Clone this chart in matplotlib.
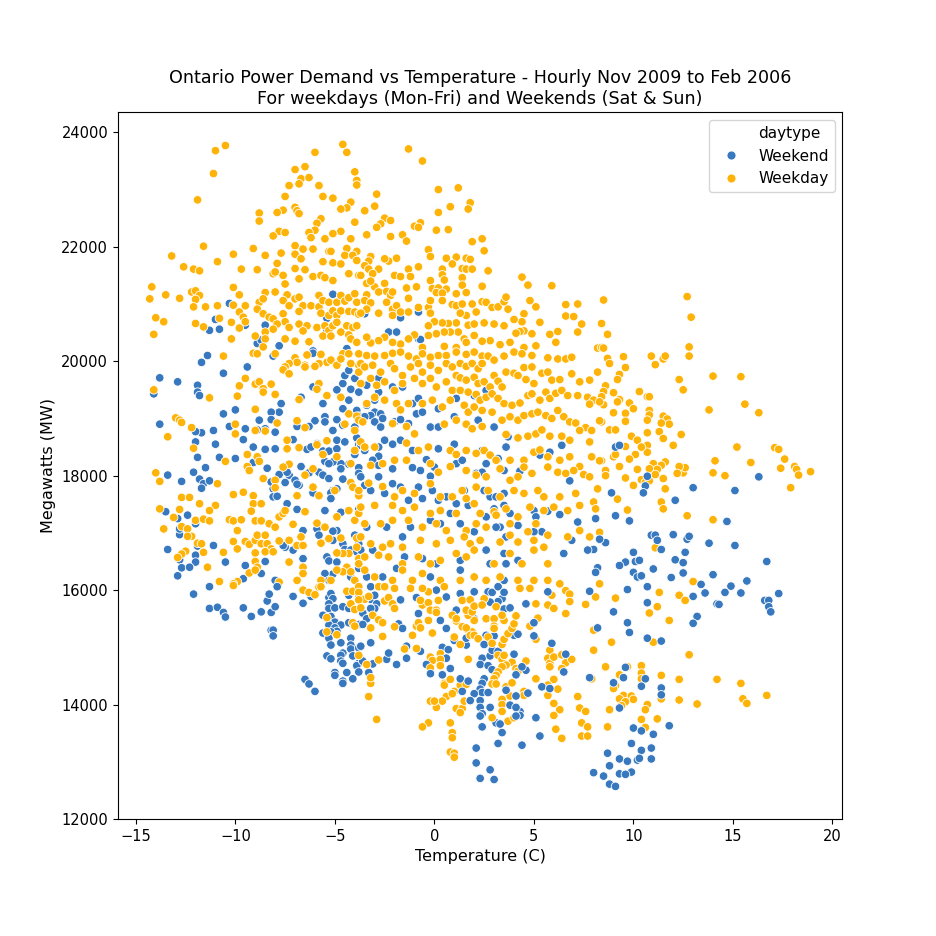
import numpy as np
import matplotlib.pyplot as plt
from matplotlib.lines import Line2D

# (temperature C, megawatts)
weekend_pts = [
    (-10.3,21010),(-11.0,20730),(-10.8,20560),(-11.3,20540),(-9.5,20630),(-8.5,20630),(-8.9,20310),(-8.7,20370),
    (-7.8,20270),(-6.1,20180),(-5.1,21170),(-5.4,20750),(-5.4,20540),(-4.4,20220),
    (-0.8,20390),(-0.7,20380),(-2.3,20510),(-1.9,20510),(-1.7,20760),(-0.8,20860),(-3.7,20830),(-3.5,20830),
    (-11.4,20100),(-11.7,19980),(-10.6,19790),(-13.8,19710),(-12.9,19640),(-11.9,19580),(-11.9,19460),(-11.8,19400),
    (-14.1,19430),(-9.4,19900),(-8.1,20090),(-8.8,19650),(-7.7,19260),(-6.7,19370),(-6.1,19550),(-6.1,20140),
    (-5.6,19260),(-4.9,19500),(-4.6,19610),(-4.2,19510),(-4.0,19700),(-3.8,19460),(-4.5,19750),(-4.3,19840),
    (-4.3,19320),(-4.6,19170),(-3.9,19140),(-3.8,19040),(-4.9,18980),(-4.6,18880),(-4.0,18850),(-5.1,18790),
    (-5.5,19030),(-5.5,18940),(-6.0,18960),(-6.3,18860),(-6.9,18860),(-7.8,19110),(-8.2,19110),(-8.8,18970),
    (-8.2,18980),(-8.5,18820),(-8.0,18760),(-8.9,18800),(-9.5,18820),(-10.0,19150),(-10.6,19080),(-10.3,18860),
    (-11.1,18790),(-11.7,18750),(-12.0,18770),(-13.8,18900),(-12.0,18590),(-11.0,18550),(-11.9,18320),(-10.8,18320),
    (-10.0,18300),(-9.6,18630),(-9.1,18500),(-8.5,18460),(-9.1,18230),(-8.0,18470),(-7.1,18630),(-6.4,18460),
    (-6.2,18500),(-5.9,18560),(-5.6,18430),(-5.3,18430),(-4.9,18470),(-4.9,18620),(-4.5,18590),(-3.9,18660),
    (-3.8,18540),(-4.0,18370),(-4.3,18200),(-4.7,18210),(-5.1,18240),(-5.5,18250),(-5.3,18210),(-4.7,18120),
    (-3.8,18140),(-3.8,18040),(-6.7,18160),(-8.4,18130),(-7.8,18020),(-7.3,18010),(-7.0,17920),(-6.8,17830),
    (-5.8,18060),(-5.6,18010),(-5.3,17950),(-4.6,17940),(-5.1,17740),(-4.9,17770),(-5.2,17700),(-5.2,17600),
    (-8.1,17770),(-8.1,17630),(-7.9,17640),(-7.4,17510),(-6.9,17410),(-6.1,17700),(-5.5,17390),(-4.7,17360),
    (-3.8,17410),(-4.0,16960),(-4.9,17040),(-5.1,17030),(-5.9,17070),(-5.8,16960),(-6.6,17040),(-5.1,16870),
    (-4.6,16810),(-4.5,16710),(-4.2,16700),(-3.8,16810),(-3.9,16670),(-3.8,16380),(-5.4,16580),(-5.3,16510),
    (-4.9,16490),(-5.1,16280),(-5.5,16290),(-5.3,16170),(-4.2,16230),(-3.8,16070),(-6.6,16550),(-7.1,16700),
    (-7.5,16750),(-7.6,16780),(-8.3,16700),(-8.5,16500),(-8.0,16170),(-8.7,16290),(-9.6,16200),(-9.5,16430),
    (-11.1,16780),(-10.5,16490),(-11.9,16770),(-12.0,16610),(-12.0,16490),(-12.8,16530),(-12.7,16390),(-12.3,16400),
    (-12.9,16250),(-13.4,16710),(-12.8,16970),(-12.8,17070),(-12.9,17250),(-12.4,17310),(-12.0,17160),(-13.5,17370),
    (-13.4,18010),(-12.7,17900),(-11.8,17940),(-11.6,17860),(-11.3,17910),(-11.7,17780),(-11.5,18140),(-12.1,18060),
    (-11.3,16060),(-7.5,17880),(-8.2,17890),(-6.9,17850),(-7.4,18060),(-6.3,18050),
    (-3.4,19580),(-2.8,19700),(-2.1,19550),(-1.6,19550),(-2.8,19460),(-3.0,19320),(-3.4,19230),(-3.0,19110),
    (-3.2,19050),(-3.5,19030),(-2.7,19080),(-2.6,19000),(-3.0,18940),(-2.7,18850),(-2.0,18940),(-1.7,18980),
    (-1.3,18910),(-0.9,19080),(-0.6,19110),(-1.1,19260),(-0.8,19350),(0.2,19170),(-0.2,18850),(0.2,18850),
    (1.0,19030),(1.1,19350),(2.0,19400),(2.6,19490),(2.2,18970),(3.0,18850),(3.7,18680),(3.6,18500),
    (3.2,18300),(3.5,18090),(4.3,18080),(5.3,18360),(5.8,18410),(6.4,18530),(6.8,17910),(6.3,17320),
    (5.0,17390),(5.1,17280),(5.7,17380),(5.4,17020),(6.9,16870),(7.2,17190),(8.1,17250),(8.3,16880),
    (8.0,16710),(7.7,16700),(8.2,16390),(8.1,16310),(6.5,16640),
    (-3.7,18530),(-3.5,18440),(-2.8,18500),(-2.5,18620),(-2.1,18550),(-1.7,18620),(-2.8,18340),(-3.1,18270),
    (-2.8,18180),(-2.1,18120),(-1.1,18440),(-1.1,18140),(-0.7,18090),(-0.4,18280),(0.0,18150),(-0.2,17990),
    (0.2,18470),(1.0,18550),(1.1,18210),(1.4,18270),(2.4,18440),(2.1,18040),(2.4,18060),(2.6,18210),
    (-3.7,17980),(-3.5,17830),(-3.2,17740),(-2.8,17980),(-2.5,17690),(-2.1,17860),(-1.7,17800),(-1.3,17570),
    (-0.8,17800),(-0.6,17600),(-0.1,17740),(0.2,17570),(0.6,17630),(1.1,17510),(1.5,17740),(1.7,17480),
    (2.5,17740),(2.8,17630),(3.1,17630),(3.5,17690),(3.5,17480),(3.0,17420),(2.6,17280),(3.3,17100),
    (3.8,17340),(4.2,17130),(5.0,17020),(3.6,16930),(3.1,17100),(2.0,17020),(1.3,17160),(0.8,17340),
    (0.3,17160),(-0.2,17220),(-1.2,17100),(-1.6,16930),(-2.4,17100),(-3.4,17100),(-3.7,16700),(-3.1,16700),
    (-1.9,16380),(-1.5,16580),(-0.6,16550),(0.1,16460),(1.3,16520),(2.6,16700),(2.8,16460),(3.5,16640),
    (3.6,16460),(4.2,16520),(-3.4,16230),(-2.6,16230),(-0.2,16230),(1.3,16350),(2.6,16170),(3.5,16170),
    (9.1,18500),(9.3,18530),(10.7,17990),(10.6,17820),(10.5,17700),(8.9,17700),(12.1,17570),(13.0,17790),
    (15.1,17740),(16.3,17980),(9.1,17300),(9.8,17210),(14.7,17200),(10.9,16960),(11.1,16960),(11.2,16870),
    (11.4,16710),(12.0,16970),(12.7,16890),(12.8,16940),(13.8,16820),(15.1,16780),(8.6,16830),(8.3,16890),
    (10.0,16660),(10.1,16500),(10.3,16520),(9.6,16490),(9.3,16430),(11.0,16370),(12.1,16530),(12.5,16480),
    (12.6,16660),(10.0,16310),(10.2,16230),(10.4,16250),(11.9,16220),(12.5,16300),(14.0,16270),(10.7,16060),
    (9.7,16010),(13.4,16100),(14.9,16070),(15.7,16160),(13.6,15950),(14.6,15960),(15.4,15950),(16.7,16500),
    (17.3,15940),(16.6,15820),(16.8,15820),(16.8,15710),(16.9,15620),(13.0,15890),(10.7,15780),(14.2,15760),
    (14.3,15750),(9.0,15620),(13.2,15540),(13.0,15420),(9.7,15430),(9.8,15260),(10.7,15160),(11.4,15110),
    (9.6,14650),(9.0,14380),(9.5,14470),(10.6,14450),(10.4,14320),(11.4,14290),(11.4,14170),(9.3,13940),
    (10.0,13590),(10.4,13540),(11.8,13630),(11.0,13480),(9.9,13320),(10.4,13200),(10.9,13240),(8.7,13150),
    (9.3,13050),(9.7,13010),(10.2,13030),(10.3,13060),(10.9,13050),(8.8,12930),(9.9,12820),(9.3,12790),
    (9.6,12780),(8.5,12750),(8.8,12610),(9.1,12570),
    (-12.1,15930),(-11.3,15680),(-10.9,15700),(-10.6,15610),(-10.5,15530),(-9.6,15690),(-9.2,15540),(-8.7,15620),
    (-8.4,15810),(-8.3,15930),(-7.9,16060),(-8.2,15610),(-8.0,15710),(-8.2,15300),(-8.1,15300),(-8.1,15200),
    (-7.1,15890),(-6.6,15770),(-6.2,15890),(-5.6,15560),(-5.6,15250),(-5.3,15870),(-5.2,15940),(-5.1,15850),
    (-5.3,15760),(-5.3,15680),(-5.0,15690),(-5.2,15540),(-5.0,15440),(-4.7,15390),(-5.3,15390),(-5.0,15340),
    (-4.9,15280),(-5.2,15270),(-5.3,15160),(-5.2,15040),(-4.7,15080),(-4.2,15160),(-4.2,15040),(-4.2,14970),
    (-3.8,14990),(-4.1,14850),(-4.6,14900),(-4.7,14860),(-5.4,14850),(-5.2,14800),(-4.7,14760),(-4.6,14720),
    (-3.8,14720),(-3.9,14680),(-4.4,14560),(-5.0,14560),(-5.0,14510),(-3.8,14570),(-4.1,14450),(-4.6,14410),
    (-4.6,14370),(-6.5,14440),(-6.3,14360),(-6.0,14230),(-4.3,15910),(-4.6,15710),(-4.3,15680),(-3.8,15910),
    (-3.6,15590),(-4.3,15430),(-3.8,15400),
    (-3.2,16060),(-3.2,15840),(-3.0,15910),(-2.9,15760),(-3.0,15680),(-3.2,15680),(-3.6,15600),(-3.4,15500),
    (-3.6,15400),(-3.7,15020),(-3.2,15080),(-3.6,14760),(-3.1,14710),(-3.3,14560),(-2.4,14790),(-2.3,14900),
    (-1.9,14700),(-1.7,15830),(-1.8,15410),(-1.6,15330),(-1.4,15020),(-1.4,14810),(-0.7,14930),(-0.8,15590),
    (-0.9,15870),(0.1,16000),(0.6,15880),(1.3,15940),(1.1,15650),(0.3,15470),(0.6,15330),(1.0,15120),
    (1.6,15040),(1.6,15160),(0.4,15000),(0.7,14960),(0.6,14810),(-0.4,14700),(-0.2,14540),(0.4,14520),
    (0.8,14630),(1.3,14450),(1.7,14410),(1.4,14230),(2.0,15970),(2.7,15970),(2.9,15960),(3.2,16060),
    (3.4,15850),(3.5,15960),(3.2,15800),(2.8,15790),(3.5,15670),(3.8,15690),(2.0,15500),(2.6,15210),
    (3.0,15200),(4.0,15210),(4.2,15230),(2.5,15050),(2.4,14810),(2.3,14700),(2.7,14680),(2.8,14850),
    (2.9,14950),(3.2,14930),(2.9,14610),(2.5,14450),(2.4,14370),(2.3,14270),(2.4,14210),(2.7,14210),
    (2.0,14190),(1.8,14070),(2.3,14070),(2.3,13950),(2.4,13840),(2.3,13800),(2.8,13950),(2.4,13610),
    (3.1,13680),(3.4,13510),(3.2,13320),(2.1,13240),(2.1,12980),(2.8,12860),(2.3,12710),(3.0,12690),
    (3.3,13660),(3.6,14250),(4.0,14880),(4.1,14520),(4.1,14150),(3.8,13990),(4.3,13880),(4.3,13810),
    (4.1,13800),(4.1,13950),(4.4,13290),(4.6,14600),(4.4,14660),(4.7,14200),(5.0,15200),(5.0,15430),
    (4.6,15760),(5.1,13770),(5.3,13450),(5.4,14310),(5.8,14280),(5.9,15070),(5.7,15970),(6.6,14880),
    (6.5,14570),(7.8,15980),(8.2,15340),(7.8,14470),(8.0,12810),
]

weekday_pts = [
    (-11.0,23680),(-10.5,23770),(-11.1,23280),(-11.9,22820),(-4.6,23790),(-4.4,23650),(-6.0,23650),(-4.0,23310),
    (-7.0,23350),(-6.5,23400),(-6.7,23190),(-6.3,23210),(-7.3,23070),(-6.8,23100),(-5.8,23070),(-7.5,22880),
    (-5.6,22880),(-5.1,22850),(-3.9,23160),(-3.9,23080),(-4.2,22780),(-4.4,22680),(-4.7,22660),(-5.7,22490),
    (-7.0,22690),(-6.9,22630),(-6.8,22580),(-7.6,22640),(-7.9,22600),(-8.8,22590),(-8.8,22450),(-4.0,22430),
    (-5.9,22410),(-6.0,22290),(-6.3,22250),(-4.7,22270),(-5.1,22230),(-6.2,22160),(-5.5,22140),(-4.2,22140),
    (-7.8,22270),(-7.5,22250),(-8.1,22190),(-11.6,22010),(-9.1,21970),(-13.2,21840),(-12.6,21650),(-12.1,21610),
    (-11.8,21580),(-10.9,21740),(-10.1,21870),(-9.7,21610),(-8.9,21600),(-8.5,21850),(-7.7,21890),(-7.0,22020),
    (-6.6,21960),(-6.1,21960),(-7.0,21870),(-6.7,21790),(-5.3,21920),(-5.2,21920),(-4.4,21970),(-3.9,21920),
    (-4.5,21850),(-4.1,21850),(-5.6,21740),(-5.1,21720),(-4.7,21700),(-3.9,21760),(-7.9,21710),(-7.0,21620),
    (-6.5,21600),(-7.6,21500),(-8.1,21530),(-8.0,21560),(-6.8,21440),(-6.1,21480),(-5.7,21500),(-5.5,21460),
    (-5.1,21410),(-4.3,21530),(-3.8,21500),(-14.2,21300),(-14.3,21090),(-13.5,21160),(-14.0,20760),(-13.6,20690),
    (-14.1,20470),(-12.8,21100),(-12.2,21210),(-12.0,21230),(-11.8,21150),(-12.0,21080),(-12.1,20950),(-11.5,20950),
    (-10.9,20970),(-12.0,20660),(-11.6,20600),(-10.8,20750),(-10.2,20680),(-10.2,20390),(-10.1,21290),(-9.8,21160),
    (-10.1,20980),(-9.5,20970),(-9.8,20860),(-9.6,20770),(-9.5,20690),(-9.8,20580),(-8.8,21030),(-8.5,21200),
    (-8.6,21090),(-8.9,20910),(-8.6,20830),(-8.3,20770),(-8.1,20740),(-8.0,21210),(-7.5,21350),(-7.4,21160),
    (-7.6,21060),(-7.3,20970),(-7.0,21090),(-6.8,21120),(-6.6,20970),(-6.8,20870),(-7.6,20830),(-7.5,20690),
    (-7.3,20590),(-6.8,20650),(-6.4,20620),(-7.9,20650),(-8.1,20560),(-8.5,20510),(-8.5,20390),(-9.0,20440),
    (-7.5,20390),(-7.0,20350),(-6.6,20530),(-6.2,20970),(-5.8,21150),(-5.8,20950),(-5.6,21060),(-5.3,21030),
    (-4.9,21030),(-4.7,21150),(-4.5,21050),(-4.3,21110),(-4.0,21180),(-3.9,21030),(-5.7,20840),(-5.3,20800),
    (-5.1,20880),(-4.9,20800),(-4.7,20880),(-4.3,20870),(-4.0,20860),(-3.8,20820),(-5.9,20590),(-5.5,20620),
    (-5.3,20540),(-5.1,20620),(-4.9,20680),(-4.4,20620),(-4.1,20590),(-3.9,20620),(-5.6,20440),(-5.2,20440),
    (-4.7,20510),(-4.3,20460),(-4.2,20390),(-3.9,20330),(-6.3,20340),(-8.6,20250),
    (-1.3,23710),(-0.6,23500),(0.2,23000),(1.2,23030),(1.8,22770),(1.7,22660),(0.8,22700),(0.2,22600),
    (-2.9,22920),(-3.0,22710),(-3.5,22630),(-2.5,22500),(-2.2,22460),(-2.7,22400),(-2.9,22340),(-0.7,22420),
    (-1.0,22360),(-0.8,22340),(0.1,22290),(0.7,22300),(-3.4,22210),(-2.2,22180),(-1.6,22210),(-1.4,22100),
    (1.9,22090),(2.4,22140),(2.5,21930),(-0.3,21950),(-0.2,21830),(0.6,21800),(1.1,21820),(1.6,21800),
    (1.8,21780),(0.9,21700),(1.4,21620),(1.6,21610),(1.9,21610),(2.7,21580),(0.4,21610),(-0.8,21650),
    (-1.3,21610),(-1.9,21800),(-2.3,21750),(-2.5,21790),(-2.8,21610),(-3.2,21830),(-3.3,21750),(-3.5,21670),
    (-3.3,21610),(-3.1,21530),(-3.7,21500),(-2.0,21500),(-1.7,21480),(-1.2,21480),(0.4,21510),(1.4,21460),
    (0.5,21420),(-0.2,21410),(4.4,21470),(4.7,21330),(5.9,21320),(2.4,21310),(1.4,21330),(-0.1,21270),
    (0.2,21280),(0.6,21260),(1.1,21180),(1.6,21200),(0.1,21200),(0.4,21190),(-0.9,21300),(-1.4,21280),
    (-3.0,21300),(-3.4,21360),(-3.2,21400),(-2.5,21360),(-2.8,21210),(-2.4,21220),(-2.2,21150),(-2.1,21210),
    (-3.4,21160),(-3.5,21060),(-3.2,21020),(-3.4,20910),(-3.7,20840),(-2.8,20840),(-2.4,21030),(-2.1,20910),
    (-1.9,20970),(-2.1,20800),(-1.7,20860),(-1.3,21100),(-1.3,20860),(-0.8,20940),(-0.3,20940),(-0.2,20840),
    (-0.2,21060),(0.4,21060),(0.9,20990),(1.1,20970),(1.4,21000),(1.9,21000),(2.4,21040),(2.6,21030),
    (2.9,20940),(3.2,20950),(3.5,21040),(3.6,21120),(3.7,20910),(4.8,21060),(5.1,20950),(6.6,20990),
    (7.2,21000),(8.5,21070),(6.6,20790),(7.0,20780),(7.4,20650),(8.4,20650),(5.3,20680),(4.5,20830),
    (4.4,20690),(4.0,20730),(3.5,20620),(3.0,20650),(2.5,20670),(2.1,20860),(1.6,20800),(1.3,20840),
    (1.1,20670),(0.7,20660),(0.4,20670),(0.0,20690),(-0.3,20620),(1.7,20630),(2.0,20650),(4.5,20530),
    (4.3,20520),(4.1,20490),(4.9,20480),(5.8,20470),(6.1,20330),(6.2,20520),(7.2,20510),(8.2,20230),
    (8.4,20240),(5.1,20270),(4.5,20240),(3.8,20330),(3.3,20290),(2.8,20360),(2.4,20350),(2.0,20450),
    (1.5,20390),(1.2,20510),(0.8,20510),(0.5,20510),(0.1,20480),(-0.3,20450),(-1.0,20460),(-1.3,20390),
    (-1.7,20300),(-2.1,20330),(-2.5,20420),(-2.8,20360),(-3.2,20320),(-3.4,20420),(-0.6,20240),(0.5,20260),
    (1.1,20240),(1.6,20330),
    (8.5,21070),(12.7,21130),(12.9,20770),(8.4,20660),(8.7,20470),(8.5,20230),(8.7,20050),(8.8,19960),
    (9.5,20080),(9.6,19890),(10.9,20090),(11.1,19940),(11.5,20040),(11.6,20090),(12.8,20250),(12.8,20090),
    (9.3,19770),(9.2,19680),(8.6,19570),(8.5,19470),(8.4,19380),(8.5,19240),(9.0,19450),(9.3,19330),
    (9.2,19290),(9.8,19270),(10.0,19170),(10.3,19470),(10.7,19380),(10.8,19380),(10.8,19140),(10.8,19060),
    (10.7,18970),(9.6,19090),(9.6,18950),(9.0,19100),(8.4,18940),(12.3,19680),(12.5,19500),(14.0,19740),
    (15.4,19730),(15.6,19250),(16.3,19100),(13.8,19150),(11.5,19040),(11.7,18990),(11.8,18900),(11.4,18920),
    (11.3,18770),(11.5,18650),(12.4,18720),(10.7,18750),(9.9,18690),(8.8,18800),(9.1,18800),
    (10.2,18620),(12.0,18530),(15.2,18500),(17.1,18490),(17.3,18460),(17.6,18290),(18.1,18160),(18.2,18110),
    (17.4,18130),(18.3,18010),(18.9,18070),(17.9,17790),(15.9,18230),(14.1,18260),(14.0,18050),(14.6,18000),
    (12.5,18050),(12.6,18140),(12.3,18160),(12.2,18040),(11.6,18240),(11.4,18180),(11.0,18210),(11.2,18110),
    (10.8,18120),(11.1,18020),(11.5,17950),(10.7,18530),(10.7,18410),(10.4,18500),(10.1,18370),(10.2,18110),
    (9.8,18290),(9.6,18510),(9.3,18160),(9.0,18330),(9.1,18370),(8.4,18260),(8.6,18090),(8.6,18000),
    (9.6,17960),(10.0,17830),(10.4,17930),(10.6,17880),(10.8,17910),(11.6,17770),(9.2,17590),(9.7,17400),
    (11.4,17540),(11.5,17420),(12.7,17300),(14.0,17230),(11.1,16740),(8.3,17010),(8.3,16110),(13.0,16150),
    (11.3,15960),(12.3,15910),(12.6,15820),(9.1,15860),(11.2,15710),(10.8,15600),(11.8,15470),(8.9,15090),
    (11.0,15090),(12.8,14870),(10.4,14680),(8.6,14650),(9.7,14660),
    (9.3,14520),(10.4,14550),(10.4,14450),(11.4,14510),(12.3,14440),(14.2,14440),(15.4,14370),(9.1,14330),
    (9.0,14280),(9.5,14160),(9.9,14150),(9.3,14100),(10.0,14090),(9.6,14050),(11.4,14100),(12.3,14080),
    (13.2,14010),(15.5,14100),(15.7,14020),(16.7,14160),(9.4,13980),(10.7,14000),(10.6,13910),(8.8,13910),
    (10.4,13740),(11.2,13750),(10.6,13600),(8.7,13610),
    (-10.6,20090),(-9.1,20140),(-8.9,20130),(-8.0,20130),(-7.0,20060),(-6.4,20110),(-5.7,20120),(-5.4,19980),
    (-5.8,19960),(-6.0,19910),(-6.5,19930),(-6.9,19980),(-7.3,19960),(-7.5,19900),(-7.6,19850),(-7.3,19780),
    (-6.5,19900),(-5.2,20020),(-4.9,19930),(-4.6,20130),(-4.3,20130),(-3.8,20130),(-3.8,19930),(-3.8,19810),
    (-4.2,19960),(-4.7,20040),(-9.5,19700),(-9.8,19570),(-9.0,19600),(-8.8,19640),(-8.6,19520),(-8.6,19460),
    (-8.2,19600),(-8.0,19420),(-9.9,19390),(-11.3,19360),(-14.1,19500),(-6.8,19330),(-5.8,19610),(-5.9,19510),
    (-5.4,19400),(-4.7,19370),(-4.3,19080),(-3.9,19040),(-4.5,18900),(-3.8,18970),(-4.0,18790),(-9.0,19160),
    (-7.9,18920),(-8.5,18780),(-9.0,18790),(-10.0,18900),(-10.0,18730),(-6.9,18960),(-6.5,18840),(-13.0,19010),
    (-12.8,18970),(-12.7,18930),(-12.2,18840),(-13.4,18680),(-12.1,18480),(-10.5,18250),(-9.4,18370),(-8.9,18330),
    (-8.8,18250),(-9.4,18160),(-9.3,18090),(-7.4,18620),(-7.4,18470),(-6.8,18490),(-7.3,18200),(-7.6,18150),
    (-5.9,18540),(-5.4,18610),(-5.6,18370),(-6.1,18120),(-6.5,18010),(-4.9,18330),(-4.2,18210),(-4.0,18440),
    (-14.0,18050),(-13.8,17900),(-10.9,17860),(-8.6,17950),(-8.0,17920),(-8.0,17790),(-6.9,17650),(-6.1,17800),
    (-5.8,17650),(-5.0,17740),(-4.2,17880),(-4.1,17800),(-3.8,17650),(-3.8,17740),(-10.1,17670),(-9.6,17710),
    (-9.1,17650),(-9.1,17510),(-8.7,17510),(-9.2,17380),(-9.0,17210),(-8.7,17210),(-8.3,17160),(-8.0,17100),
    (-7.8,17280),(-7.6,17340),(-7.5,17390),(-7.1,17150),(-6.5,17370),(-5.9,17170),(-5.5,17100),(-4.9,17280),
    (-4.3,17390),(-4.0,17220),(-3.8,17340),(-12.7,17620),(-12.3,17620),(-11.8,17510),(-11.0,17480),(-11.3,17390),
    (-13.8,17420),(-13.1,17270),(-13.6,17070),(-12.8,17410),(-12.7,17110),(-12.4,17070),(-12.2,16940),(-12.4,16940),
    (-12.0,17220),(-11.6,17240),(-11.3,17210),(-11.9,16820),(-11.7,16810),(-12.5,16680),(-12.7,16630),(-12.9,16570),
    (-11.6,16660),(-11.4,16400),(-10.6,16660),(-10.8,16150),(-10.3,17230),(-10.1,17210),(-9.7,17230),(-9.9,17040),
    (-10.1,16850),(-9.9,16720),(-9.5,16850),(-9.3,16800),(-9.0,16870),(-8.9,16960),(-8.5,16960),(-8.7,16810),
    (-8.4,16810),(-8.2,16720),(-8.5,16670),(-9.0,16650),(-9.0,16500),(-8.1,16670),(-7.8,16860),(-7.3,16870),
    (-6.9,16780),(-6.6,16780),(-6.7,16930),(-5.7,16820),(-5.3,16900),(-4.7,16910),(-3.9,16910),(-3.9,16750),
    (-3.8,16550),(-4.3,16640),(-4.6,16640),(-4.9,16650),(-4.4,16400),(-4.6,16320),(-4.9,16350),(-4.2,16320),
    (-3.8,16460),(-4.0,16170),(-5.2,16170),(-5.7,16170),(-5.8,16050),(-6.6,16400),(-6.6,16290),(-6.9,16170),
    (-7.3,16490),(-7.8,16140),(-8.9,16400),(-9.3,16300),(-9.0,16350),(-9.9,16150),(-10.1,16110),
    (-3.7,19960),(-3.4,20100),(-3.0,20090),(-2.5,20100),(-2.1,20140),(-1.7,20160),(-1.3,20090),(-0.9,20040),
    (-0.6,20130),(-0.2,20070),(0.2,20100),(0.6,20100),(1.1,20160),(1.6,20120),(2.0,20160),(2.4,20090),
    (2.7,20090),(3.0,20020),(3.5,20090),(4.0,20160),(4.4,20130),(4.9,20100),(5.7,20060),(6.2,20040),
    (6.6,20040),(6.9,20070),(-3.5,19900),(-3.1,19930),(-2.7,19810),(-2.2,19960),(-2.0,19870),(-1.6,19750),
    (-1.2,19900),(-0.8,19960),(-0.6,19810),(-0.2,19930),(0.2,19840),(0.6,19960),(0.9,19900),(1.3,19960),
    (1.6,19910),(1.9,19960),(2.2,19870),(2.4,19960),(1.1,19750),(1.3,19710),(1.6,19670),(2.0,19720),
    (2.2,19610),(2.5,19640),(2.8,19550),(3.0,19750),(3.2,19650),(3.4,19550),(3.6,19810),(4.0,19790),
    (4.2,19750),(4.5,19890),(4.6,19680),(4.9,19900),(5.0,19610),(5.4,19790),(5.7,19810),(5.9,19670),
    (6.3,19680),(6.9,19780),(7.3,19640),(7.8,19670),(8.2,19810),(-3.7,19610),(-3.2,19700),(-2.9,19580),
    (-2.5,19640),(-2.0,19490),(-1.6,19610),(-1.0,19700),(-0.6,19610),(-0.2,19700),(0.1,19550),(0.6,19640),
    (0.9,19490),(1.3,19490),(1.7,19460),(2.1,19420),(2.3,19320),(2.6,19370),(2.9,19430),(3.2,19350),
    (3.5,19260),(3.9,19230),(4.3,19270),(4.7,19400),(4.9,19430),(5.3,19320),(5.6,19460),(5.8,19350),
    (6.1,19440),(6.4,19490),(6.7,19400),(7.2,19400),(7.7,19370),(8.0,19320),(8.3,19290),(7.8,19250),
    (-3.4,19260),(-3.0,19370),(-2.5,19320),(-1.9,19260),(-1.7,19150),(-1.3,19260),(-0.6,19260),(-0.1,19320),
    (0.4,19200),(0.8,19320),(1.5,19230),(1.7,19110),(2.0,19200),(2.4,19140),(2.9,19110),(3.4,18970),
    (3.8,19030),(4.2,18970),(4.5,19050),(4.9,19080),(5.2,19110),(5.6,19050),(5.9,19000),(6.2,19140),
    (6.5,19030),(6.8,18940),(7.1,18920),(7.6,18840),(8.3,18960),(7.9,18790),(-3.6,18940),(-2.1,18910),
    (-1.4,18860),(-1.0,18730),(0.5,18900),(1.1,18970),(1.6,18900),(1.9,18820),(2.4,18860),(3.6,18720),
    (4.2,18660),(4.7,18690),(5.1,18730),(5.4,18800),(5.8,18690),(6.4,18690),(6.8,18620),(7.3,18790),
    (7.8,18590),(-3.7,18590),(-3.5,18500),(-3.0,18500),(-1.4,18570),(-0.8,18440),(-0.3,18500),(0.8,18440),
    (1.1,18370),(1.6,18440),(2.1,18390),(2.5,18440),(2.8,18360),(3.1,18270),(3.8,18270),(4.5,18270),
    (5.0,18410),(5.3,18450),(5.7,18330),(6.3,18270),(6.8,18330),(7.3,18160),(7.9,18330),(8.3,18260),
    (-3.2,18180),(-2.6,18210),(-2.0,18270),(-1.4,18270),(-0.2,18210),(0.2,18060),(0.8,18160),(1.6,18090),
    (2.1,18010),(2.6,17980),(3.3,18120),(3.8,17920),(4.2,17980),(4.5,18150),(4.9,18040),(5.7,18150),
    (6.2,18060),(6.6,18040),(7.0,18090),(7.5,18020),(7.8,17980),(8.2,17770),(-3.3,17870),(-2.6,17810),
    (-2.0,17630),(-1.6,17740),(-1.0,17690),(-0.2,17860),(0.3,17630),(0.9,17630),(1.4,17740),(1.6,17600),
    (2.1,17800),(2.7,17740),(3.3,17630),(4.0,17740),(4.5,17690),(5.2,17740),(5.5,17630),(6.3,17630),
    (7.1,17690),(8.0,17540),(-3.7,17450),(-3.0,17480),(-2.1,17480),(-1.6,17390),(-1.0,17450),(-0.2,17340),
    (0.3,17390),(1.1,17340),(2.0,17510),(2.3,17340),(3.0,17370),(3.6,17420),(4.2,17280),(4.8,17450),
    (5.5,17390),(6.0,17450),(6.7,17390),(7.3,17480),(8.1,17420),(-3.5,17160),(-2.7,17160),(-2.1,17220),
    (-1.3,17220),(-0.6,17100),(0.1,17160),(0.6,17040),(1.6,17040),(2.1,17160),(2.6,17100),(3.1,17310),
    (3.8,17160),(4.7,17020),(5.1,17160),(5.7,16960),(6.7,16930),(7.3,17040),(7.8,16930),(-3.7,16930),
    (-3.2,16810),(-2.6,16750),(-2.2,16810),(-1.6,16750),(-0.7,16870),(0.1,16810),(0.8,16870),(1.5,16930),
    (1.8,16810),(2.3,16870),(3.3,16840),(3.8,16960),(4.2,16840),(5.0,16870),(5.5,16750),(-3.5,16580),
    (-2.8,16610),(-2.3,16580),(-1.6,16460),(-0.8,16580),(-0.2,16460),(0.3,16520),(1.1,16640),(1.6,16580),
    (2.0,16700),(3.0,16460),(3.8,16640),(4.4,16460),(5.0,16700),(5.7,16460),(-3.5,16350),(-3.0,16230),
    (-2.1,16170),(-1.6,16350),(-1.1,16170),(-0.6,16290),(0.3,16170),(1.3,16170),(2.0,16230),(2.6,16170),
    (3.3,16230),(4.2,16170),(5.0,16170),(5.7,16170),(6.3,16110),
    (-3.5,15840),(-3.3,15890),(-2.5,15810),(-2.3,15870),(-2.8,16060),(-2.5,16060),(-2.0,16030),(-2.1,15760),
    (-2.0,15680),(-3.1,15560),(-2.8,15480),(-2.6,15430),(-3.2,15340),(-2.6,15190),(-2.0,15360),(-1.1,15210),
    (-0.9,15370),(-0.8,15430),(-0.7,15340),(-0.3,15470),(-0.1,15250),(-0.6,15740),(-0.7,15820),(-0.3,15780),
    (-0.2,15650),(0.1,15650),(0.1,15610),(0.2,15820),(0.5,16060),(-0.3,15970),(-1.2,16030),(-0.6,16030),
    (-1.5,14970),(-0.9,14980),(-0.2,14830),(-0.1,14770),(0.3,14890),(0.3,14790),(0.3,14680),(-0.2,14640),
    (0.5,14370),(0.5,14340),(0.8,14440),(0.6,14140),(1.0,14230),(0.9,14190),(1.3,14340),(1.6,14350),
    (1.7,14790),(0.4,14060),(0.1,13950),(-0.2,14060),(0.0,14060),(1.1,13930),(1.4,13930),(1.3,13860),
    (1.5,14060),(1.8,14060),(0.8,13680),(-0.3,13680),(-0.6,13610),(0.9,13510),(0.9,13420),(0.8,13170),
    (1.0,13150),(1.0,13080),(-2.9,13740),(-3.3,14140),(-3.2,14370),(-3.2,14470),(-3.4,14700),(-2.8,14780),
    (1.0,15180),(1.3,15050),(1.1,15460),(1.4,15360),(1.7,15300),(1.9,15270),(1.8,15210),(2.0,15210),
    (2.2,15150),(1.6,15340),(2.0,15470),(1.7,15560),(1.6,15650),(1.9,15620),(1.4,15820),(1.8,15830),
    (2.0,15720),(0.9,15560),(1.1,15500),(2.5,15850),(2.4,15740),(2.6,15500),(3.0,15500),(3.0,15370),
    (3.0,15330),(2.7,15180),(2.9,15070),(3.4,15050),(3.5,15140),(3.7,15240),(3.9,15330),(4.0,15410),
    (3.5,15470),(3.4,15560),(4.1,15550),(3.1,15710),(3.2,14860),(3.4,14790),(3.5,14860),(3.9,14740),
    (3.6,14690),(3.4,14660),(3.2,14570),(3.1,14510),(3.0,14450),(2.9,14360),(3.1,14360),(3.6,14310),
    (3.9,14380),(4.1,14630),(4.2,14580),(4.6,14760),(4.5,14230),(4.5,14160),(3.8,14150),(3.4,14090),
    (3.4,14000),(3.4,13880),(2.9,13770),(3.7,13710),(4.0,13770),(4.3,16030),(4.8,16030),(5.1,15760),
    (5.2,15510),(4.8,15370),(5.1,15140),(5.7,15740),(5.9,15910),(6.0,15680),(6.6,15990),(6.8,15930),
    (6.8,15800),(6.6,15590),(5.8,14950),(5.7,14810),(5.8,14720),(5.8,14660),(6.0,14830),(6.4,14870),
    (6.6,14730),(6.4,14630),(6.9,14790),(6.0,14440),(6.2,14270),(5.7,14340),(5.7,14160),(6.0,14020),
    (6.3,13910),(6.0,13810),(6.1,13570),(6.4,13410),(5.1,14450),(7.2,14140),(7.3,13940),(7.6,13880),
    (7.4,13680),(7.7,13610),(7.4,13450),(7.7,13450),(8.0,14950),(8.0,15300),(7.9,14450),(7.6,15750),
    (8.1,15880),(8.6,14660),
    (-6.6,16000),(-6.3,15960),(-6.0,15920),(-5.7,16060),(-4.4,15980),(-4.1,15980),(-3.8,16060),(-3.8,15960),
    (-3.8,15830),(-4.2,15760),(-4.0,15660),(-3.7,15690),(-5.4,15520),(-5.4,15270),(-4.1,15430),(-4.0,15370),
    (-3.8,14860),(-4.9,15220),(-10.1,16080),
]

daytypes = ['Weekend', 'Weekday']
day_colors = ['#3778bf', '#feb308']
x_ticks = [-15, -10, -5, 0, 5, 10, 15, 20]
y_ticks = [12000, 14000, 16000, 18000, 20000, 22000, 24000]

we = np.array(weekend_pts, dtype=float)
wd = np.array(weekday_pts, dtype=float)

# seaborn puts every row in one collection, so the two colours overlap in
# mixed order; spread the weekend rows evenly among the weekday rows
temps = np.concatenate([wd[:, 0], we[:, 0]])
mws = np.concatenate([wd[:, 1], we[:, 1]])
cols = np.array([day_colors[1]] * len(wd) + [day_colors[0]] * len(we))
rank = np.concatenate([np.arange(len(wd)) / len(wd), np.arange(len(we)) / len(we)])
order = np.argsort(rank, kind='stable')

fig = plt.figure(figsize=(9.36, 9.36), dpi=100)
ax = fig.add_axes([0.126, 0.125, 0.774, 0.755])
ax.scatter(temps[order], mws[order], c=cols[order], s=38,
           edgecolors='white', linewidths=0.6)

ax.set_xlim(-15.9, 20.5)
ax.set_ylim(12000, 24350)
ax.set_xticks(x_ticks)
ax.set_yticks(y_ticks)
ax.tick_params(labelsize=10.5)
ax.set_xlabel('Temperature (C)', fontsize=11.5)
ax.set_ylabel('Megawatts (MW)', fontsize=11.5)
ax.set_title('Ontario Power Demand vs Temperature - Hourly Nov 2009 to Feb 2006\n'
             'For weekdays (Mon-Fri) and Weekends (Sat & Sun)', fontsize=12.6)

# old seaborn style legend: hue name as a blank first entry
handles = [Line2D([], [], linestyle='none', marker='')]
for c in day_colors:
    handles.append(Line2D([], [], linestyle='none', marker='o', markersize=6.5,
                          markerfacecolor=c, markeredgecolor='white', markeredgewidth=0.6))
ax.legend(handles, ['daytype'] + daytypes, loc='upper right', fontsize=11)

fig.savefig('out.png', dpi=100)
